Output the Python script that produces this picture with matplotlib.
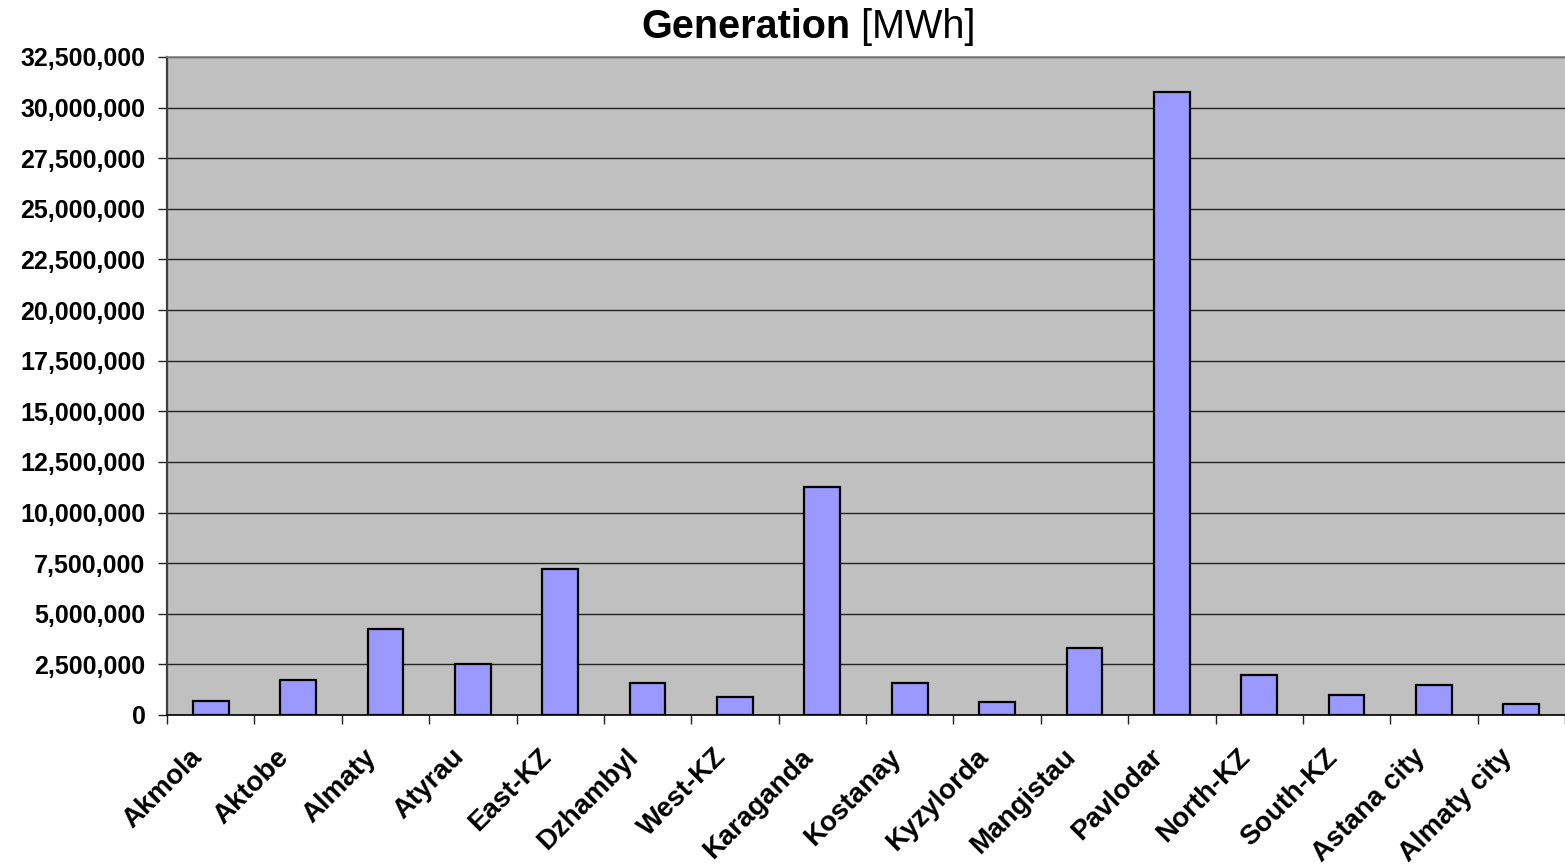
import matplotlib
matplotlib.use("Agg")
import matplotlib.pyplot as plt
import matplotlib.transforms as mtransforms
import numpy as np
from matplotlib.ticker import FuncFormatter, FixedLocator, NullFormatter

regions = ["Akmola", "Aktobe", "Almaty", "Atyrau", "East-KZ", "Dzhambyl", "West-KZ",
           "Karaganda", "Kostanay", "Kyzylorda", "Mangistau", "Pavlodar", "North-KZ",
           "South-KZ", "Astana city", "Almaty city"]
generation = [690000, 1730000, 4260000, 2520000, 7210000, 1580000, 890000,
              11260000, 1600000, 640000, 3290000, 30750000, 1960000,
              990000, 1470000, 540000]
y_ticks = list(range(0, 32500001, 2500000))

plt.rcParams['font.family'] = ['Liberation Sans', 'DejaVu Sans']

fig = plt.figure(figsize=(15.65, 8.67), dpi=100)
ax = fig.add_axes([167/1565, 1-715/867, 1-167/1565, (715-57)/867])
ax.set_facecolor('#C0C0C0')

x = np.arange(len(regions))
ax.bar(x, generation, width=0.41, color='#9999FF', edgecolor='black', linewidth=1.6, zorder=3)

ax.set_xlim(-0.5, len(regions)-0.5)
ax.set_ylim(0, 32500000)
ax.set_yticks(y_ticks)
ax.yaxis.set_major_formatter(FuncFormatter(lambda v, p: f"{int(v):,}"))
ax.grid(axis='y', color='#222222', linewidth=1.0, zorder=1)
ax.set_axisbelow(True)

# category labels, rotated, slightly left of each category centre
ax.set_xticks(x)
ax.xaxis.set_major_formatter(NullFormatter())
ax.tick_params(axis='x', which='major', length=0)
offset = mtransforms.ScaledTranslation(-22/100, -29/100, fig.dpi_scale_trans)
for xi, name in zip(x, regions):
    ax.text(xi, 0, name, transform=ax.get_xaxis_transform() + offset,
            rotation=45, ha='right', va='top', rotation_mode='anchor',
            fontsize=20, fontweight='bold', clip_on=False)

ax.xaxis.set_minor_locator(FixedLocator(np.arange(-0.5, len(regions), 1.0)))
ax.tick_params(axis='x', which='minor', length=6.5, width=1, color='#222222', direction='out')
ax.tick_params(axis='y', which='major', length=6.5, width=1, color='#222222', direction='out',
               pad=9, labelsize=18)
for lab in ax.get_yticklabels():
    lab.set_fontweight('bold')

ax.spines['left'].set_color('#404040')
ax.spines['left'].set_linewidth(1.6)
ax.spines['bottom'].set_color('black')
ax.spines['bottom'].set_linewidth(1.2)
ax.spines['top'].set_color('#808080')
ax.spines['top'].set_linewidth(1.2)
ax.spines['right'].set_visible(False)

t1 = fig.text(641/1565, 1-38/867, "Generation", fontsize=28.5, fontweight='bold',
              ha='left', va='baseline')
fig.canvas.draw()
ax.annotate(" [MWh]", xy=(1, 0), xycoords=t1, ha='left', va='bottom',
            fontsize=28.5, fontweight='normal', annotation_clip=False)

fig.savefig("out.png", dpi=100)
